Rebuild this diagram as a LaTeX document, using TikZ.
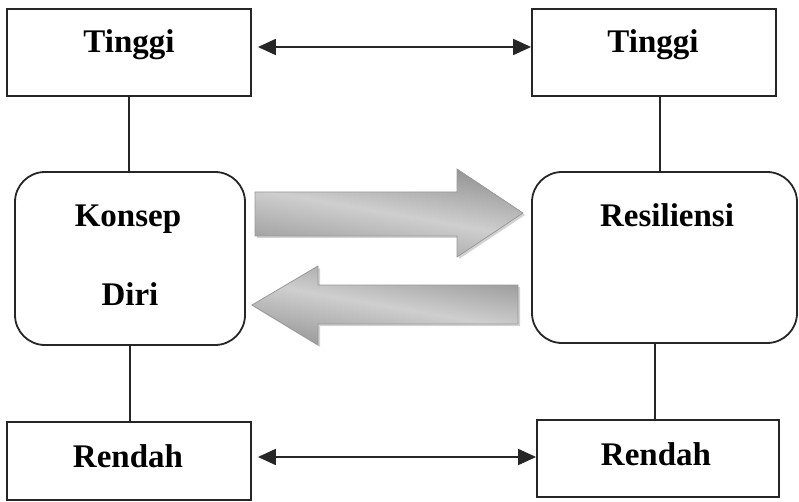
\documentclass[tikz,border=0pt]{standalone}
\usepackage{fontspec}
\setmainfont{Liberation Serif}
\usetikzlibrary{arrows.meta,shadows,calc}
\begin{document}
\begin{tikzpicture}[x=1pt,y=-1pt,
  box/.style={draw=black!85,line width=1.8pt,rectangle,inner sep=0pt,fill=white},
  rbox/.style={box,rounded corners=30pt},
  lbl/.style={anchor=base,inner sep=0pt,font=\fontsize{33}{40}\selectfont\bfseries},
  conn/.style={draw=black!85,line width=1.8pt},
  tipx/.tip={Triangle[length=18pt,width=16pt]},
  dbl/.style={conn,tipx-tipx},
  blockarrow/.style={draw=gray!80,line width=0.8pt,top color=gray!85,bottom color=gray!80,middle color=gray!38,
    shading angle=-10,
    drop shadow={opacity=0.35,shadow xshift=2pt,shadow yshift=-2pt}}
]
\useasboundingbox (0,0) rectangle (799,502);

% boxes
\node[box,minimum width=244pt,minimum height=87pt] (tl) at (129,52.5) {};
\node[box,minimum width=244pt,minimum height=87pt] (tr) at (654,52.5) {};
\node[rbox,minimum width=230pt,minimum height=173pt] (kd) at (130,258.5) {};
\node[rbox,minimum width=265pt,minimum height=171pt] (rs) at (664.5,257.5) {};
\node[box,minimum width=244pt,minimum height=78pt] (bl) at (129,461) {};
\node[box,minimum width=242pt,minimum height=77pt] (br) at (658,458.5) {};

% labels
\node[lbl] (t1) at (129,53) {Tinggi};
\node[lbl] (t2) at (653,53) {Tinggi};
\node[lbl] (k1) at (128,227) {Konsep};
\node[lbl] (k2) at (130,305) {Diri};
\node[lbl] (r1) at (667,227) {Resiliensi};
\node[lbl] (b1) at (128,467) {Rendah};
\node[lbl] (b2) at (656,465) {Rendah};

% vertical connectors
\draw[conn] (tl.south) -- (tl.south |- kd.north);
\draw[conn] (kd.south) -- (kd.south |- bl.north);
\draw[conn] ([xshift=6pt]tr.south) -- ([xshift=6pt]tr.south |- rs.north);
\draw[conn] ([xshift=-3pt]br.north) -- ([xshift=-3pt]br.north |- rs.south);

% double arrows
\draw[dbl,shorten <=6pt] ([yshift=5.5pt]tl.east) -- ([yshift=5.5pt]tl.east -| tr.west);
\draw[dbl,shorten <=6pt] ([yshift=4pt]bl.east) -- ([yshift=4pt]bl.east -| br.west);

% block arrows
\path[blockarrow] (255,192) -- (457,192) -- (457,169) -- (523,213) -- (457,257) -- (457,236) -- (255,236) -- cycle;
\path[blockarrow] (518,285) -- (318,285) -- (318,266) -- (252,305) -- (318,345) -- (318,324) -- (518,324) -- cycle;
\end{tikzpicture}
\end{document}
